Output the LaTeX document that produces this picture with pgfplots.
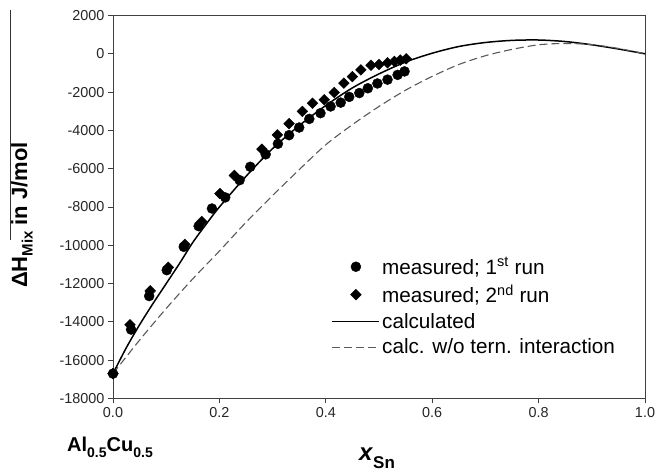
\documentclass[border=0pt]{standalone}
\usepackage{fontspec}
\setmainfont{Liberation Sans}
\usepackage{pgfplots}
\pgfplotsset{compat=1.18}
\pgfplotsset{
  markleg/.style={legend image code/.code={\path[draw=none,fill=none] (0pt,0pt) -- (47pt,0pt); \draw[##1] plot coordinates {(23.5pt,0pt)};}},
  lineleg/.style={legend image code/.code={\draw[##1] (0pt,0pt) -- (47pt,0pt);}},
}

\pgfplotstableread{
x y
0     -16700
0.034 -14400
0.068 -12650
0.101 -11300
0.133 -10080
0.161 -9000
0.186 -8080
0.211 -7500
0.238 -6600
0.258 -5900
0.287 -5250
0.310 -4700
0.331 -4250
0.350 -3850
0.369 -3400
0.390 -3100
0.409 -2750
0.428 -2550
0.444 -2250
0.463 -2050
0.479 -1800
0.497 -1550
0.516 -1350
0.535 -1100
0.548 -920
}\runone

\pgfplotstableread{
x y
0     -16700
0.032 -14150
0.070 -12380
0.104 -11150
0.135 -9950
0.167 -8760
0.201 -7300
0.228 -6350
0.280 -4980
0.309 -4230
0.331 -3650
0.356 -3010
0.375 -2580
0.397 -2400
0.416 -2020
0.434 -1530
0.450 -1190
0.466 -840
0.485 -600
0.500 -560
0.516 -470
0.529 -400
0.540 -330
0.551 -260
}\runtwo

\pgfplotstableread{
x y
0     -16700
0.025 -15350
0.05  -14150
0.075 -13050
0.1   -12000
0.125 -10950
0.15  -9850
0.175 -8900
0.2   -8000
0.25  -6400
0.3   -4950
0.35  -3750
0.4   -2700
0.45  -1780
0.5   -1050
0.55  -430
0.6   30
0.65  380
0.7   590
0.75  700
0.8   720
0.85  640
0.9   470
0.95  250
1.0   0
}\calc

\pgfplotstableread{
x y
0     -16700
0.05  -14950
0.1   -13300
0.15  -11750
0.2   -10300
0.25  -8800
0.3   -7400
0.35  -6050
0.4   -4750
0.45  -3700
0.5   -2750
0.55  -1900
0.6   -1180
0.65  -560
0.7   -100
0.75  230
0.8   470
0.85  540
0.9   480
0.95  280
1.0   0
}\calcwo

\begin{document}
\begin{tikzpicture}[x=1pt,y=1pt]
\useasboundingbox (0,0) rectangle (656,473);
\begin{axis}[
  at={(113pt,74.5pt)}, anchor=south west,
  scale only axis, width=532pt, height=383pt,
  xmin=0, xmax=1, ymin=-18000, ymax=2000,
  xtick={0,0.2,0.4,0.6,0.8,1.0},
  ytick={-18000,-16000,-14000,-12000,-10000,-8000,-6000,-4000,-2000,0,2000},
  scaled ticks=false,
  tick align=outside, tick pos=left,
  major tick length=5pt,
  axis line style={draw=black!75, line width=0.9pt},
  every tick/.style={draw=black!75, line width=0.9pt},
  /pgf/number format/assume math mode=true,
  /pgf/number format/1000 sep={},
  tick label style={font=\fontsize{14.4}{16}\selectfont, text=black!85},
  xticklabel style={/pgf/number format/.cd, fixed, fixed zerofill, precision=1},
  legend style={at={(0.405,0.379)}, anchor=north west, draw=none, fill=none,
    font=\fontsize{20.7}{24}\selectfont, row sep=5pt,
    /tikz/every even column/.append style={column sep=9pt}},
  legend cell align=left,
]
\addplot[only marks, mark=*, mark size=5pt, black, markleg]
  table[x=x,y=y] {\runone};
\addlegendentry{measured; 1\textsuperscript{st} run}
\addplot[only marks, mark=square*, mark size=3.8pt, mark options={rotate=45}, black, markleg]
  table[x=x,y=y] {\runtwo};
\addlegendentry{measured; 2\textsuperscript{nd} run}
\addplot[black, line width=1.5pt, smooth, lineleg]
  table[x=x,y=y] {\calc};
\addlegendentry{calculated}
\addplot[black!65, line width=1.1pt, dash pattern=on 8pt off 4pt, smooth, lineleg]
  table[x=x,y=y] {\calcwo};
\addlegendentry{calc. w/o tern. interaction}
\end{axis}
\draw[black!80, line width=0.9pt] (10,463) -- (10,233);
\node[rotate=90, anchor=base, font=\fontsize{22}{24}\selectfont\bfseries] at (27,258)
  {ΔH\raisebox{-0.25em}{\fontsize{15}{15}\selectfont Mix} in J/mol};
\node[anchor=base, font=\fontsize{20}{24}\selectfont\bfseries] at (110,21)
  {Al\raisebox{-0.3em}{\fontsize{14}{14}\selectfont 0.5}Cu\raisebox{-0.3em}{\fontsize{14}{14}\selectfont 0.5}};
\node[anchor=base, font=\fontsize{24}{26}\selectfont\bfseries] at (377,12)
  {\textit{x}\raisebox{-0.3em}{\fontsize{17}{17}\selectfont Sn}};
\end{tikzpicture}
\end{document}
